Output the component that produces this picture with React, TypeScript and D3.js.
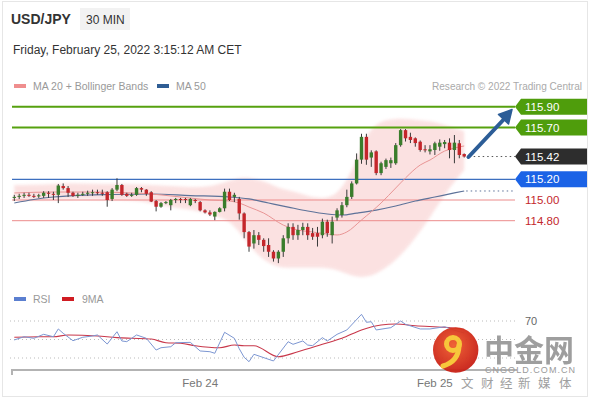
import React from "react";
import * as d3 from "d3";

// ---------- DATA ----------
const candleOpen = [115.02,115.03,115.04,115.05,115.04,115.04,115.04,115.07,115.06,115.05,115.135,115.115,115.07,115.04,115.05,115.06,115.07,115.075,115.07,115.075,115.01,115.10,115.145,115.06,115.04,115.05,115.115,115.10,115.075,114.99,114.935,114.97,114.95,115.00,115.01,115.01,114.95,115.00,114.98,114.90,114.88,114.84,114.885,114.92,115.08,115.03,115.01,114.87,114.69,114.58,114.66,114.615,114.565,114.50,114.435,114.50,114.63,114.74,114.66,114.71,114.74,114.68,114.68,114.66,114.79,114.66,114.83,114.855,114.95,115.03,115.16,115.39,115.61,115.41,115.47,115.26,115.32,115.355,115.355,115.53,115.675,115.61,115.596,115.563,115.49,115.47,115.483,115.515,115.54,115.554,115.483,115.548,115.444];
const candleHigh = [115.05,115.06,115.07,115.07,115.06,115.06,115.085,115.085,115.08,115.155,115.16,115.135,115.08,115.07,115.08,115.09,115.10,115.10,115.10,115.085,115.115,115.21,115.155,115.07,115.07,115.125,115.125,115.105,115.085,115.00,114.98,114.99,115.01,115.02,115.02,115.02,115.02,115.01,114.99,114.91,114.90,114.89,114.93,115.11,115.11,115.07,115.03,114.88,114.70,114.71,114.69,114.63,114.63,114.515,114.515,114.66,114.775,114.775,114.76,114.78,114.775,114.73,114.74,114.82,114.81,114.84,114.92,114.98,115.10,115.18,115.45,115.64,115.64,115.48,115.48,115.37,115.40,115.41,115.55,115.685,115.685,115.65,115.605,115.575,115.53,115.53,115.563,115.586,115.58,115.596,115.628,115.58,115.45];
const candleLow = [114.99,115.01,115.02,115.03,115.02,115.02,115.02,115.02,115.00,114.97,115.10,115.03,115.03,115.02,115.04,115.04,115.04,115.05,115.04,114.935,114.99,115.085,115.04,115.03,115.03,115.04,115.075,115.04,114.98,114.89,114.925,114.96,114.90,114.97,114.97,114.97,114.94,114.97,114.89,114.87,114.845,114.805,114.88,114.89,114.99,114.98,114.81,114.63,114.50,114.53,114.565,114.50,114.45,114.405,114.39,114.45,114.58,114.615,114.615,114.66,114.615,114.615,114.55,114.63,114.645,114.58,114.80,114.83,114.93,115.01,115.15,115.35,115.34,115.32,115.24,115.24,115.30,115.31,115.34,115.515,115.565,115.55,115.515,115.467,115.46,115.44,115.435,115.476,115.50,115.403,115.355,115.403,115.41];
const candleClose = [115.03,115.04,115.05,115.045,115.035,115.045,115.07,115.06,115.05,115.14,115.115,115.07,115.04,115.05,115.06,115.07,115.075,115.07,115.065,115.00,115.10,115.145,115.05,115.04,115.05,115.115,115.10,115.06,114.985,114.935,114.97,114.98,115.00,115.01,115.005,115.00,115.01,114.99,114.90,114.88,114.86,114.885,114.92,115.08,115.00,115.05,114.87,114.69,114.55,114.66,114.615,114.555,114.50,114.435,114.50,114.63,114.74,114.66,114.71,114.74,114.66,114.645,114.645,114.79,114.68,114.79,114.90,114.95,115.03,115.16,115.39,115.61,115.39,115.46,115.26,115.355,115.385,115.385,115.53,115.675,115.596,115.58,115.55,115.483,115.48,115.49,115.548,115.554,115.56,115.483,115.554,115.435,115.42];

const bandIdx = [0,4,8,12,16,20,24,28,32,36,40,44,46,48,50,52,54,56,58,60,62,64,66,68,70,72,74,76,78,80,82,84,86,88,90,92];
const bandUpper = [115.145,115.145,115.155,115.165,115.155,115.155,115.155,115.145,115.135,115.125,115.125,115.185,115.215,115.215,115.195,115.165,115.115,115.095,115.07,115.04,115.02,115.02,115.06,115.19,115.385,115.63,115.735,115.775,115.785,115.785,115.775,115.765,115.755,115.725,115.695,115.665];
const bandLower = [115.0,115.0,115.0,115.01,115.01,115.0,115.0,114.97,114.93,114.91,114.865,114.805,114.69,114.565,114.46,114.39,114.35,114.345,114.345,114.345,114.345,114.345,114.325,114.285,114.255,114.255,114.285,114.345,114.42,114.515,114.635,114.76,114.905,115.05,115.175,115.29];

const ma20Idx = [0,8,16,24,28,32,36,40,44,46,48,51,55,58,61,64,66,68,71,75,78,80,83,85,88,90,92];
const ma20Val = [115.068,115.077,115.077,115.068,115.058,115.039,115.019,115.0,114.99,114.971,114.932,114.874,114.758,114.71,114.691,114.671,114.662,114.691,114.807,114.971,115.116,115.213,115.338,115.386,115.473,115.502,115.522];

const ma50Idx = [0,4,8,12,20,28,36,44,48,52,56,60,64,67,70,74,78,82,86,90,92];
const ma50Val = [114.971,115.005,115.029,115.043,115.053,115.058,115.043,115.029,115.01,114.971,114.932,114.894,114.865,114.855,114.874,114.903,114.942,114.99,115.029,115.068,115.087];

const rsiIdx = [0,2,4,6,8,9,10,12,14,16,17,19,21,22,23,25,27,29,30,32,33,36,38,40,41,43,45,46,47,48,49,53,56,57,59,60,61,63,64,66,68,71,72,73,74,76,77,79,80,83,85,88,90,92];
const rsiVal = [49.5,53,51.3,55.6,53,61.4,56.7,48.7,52.4,53.8,54.9,45.1,58.4,48.4,47.7,54.9,51.3,38.6,41.1,42.2,46.5,46.9,37.6,36.8,35.1,57.8,51.3,40,30.8,26,34,26.8,47.6,44.8,48.4,44,43.3,52,48.4,55.6,60.3,77.2,68.6,69.2,60.3,62,62.8,70,66.4,61.4,61.4,63.8,60,57];
const rsiMaIdx = [0,5,8,11,17,21,24,28,31,34,37,42,45,47,49,54,58,63,67,71,75,78,82,88,92];
const rsiMaVal = [52.4,53,53,54.9,53.8,52,51.3,50.5,46.5,45.9,43.3,41.1,44,43.3,43.3,31.4,36.8,44.8,51.3,60.3,65.7,66.8,64.9,63.2,61];

const levelValues = [115.90, 115.70, 115.42, 115.20, 115.00, 114.80];
const levelKinds = ["res", "res", "cur", "piv", "sup", "sup"];
const rsiLevels = [70, 50, 30];
const xTickIdx = [38, 86];
const xTickLabels = ["Feb 24", "Feb 25"];

// ---------- STYLE ----------
const FONT = "'Liberation Sans', Arial, sans-serif";
const GREEN = "#56a10f";
const RED_C = "#c4262b";
const GREEN_C = "#3a7d2c";

export default function App() {
  const n = candleOpen.length;
  const x = d3.scaleLinear().domain([0, n - 1]).range([14.3, 464.2]);
  const y = d3.scaleLinear().domain([114.8, 115.2]).range([220.7, 179.3]);
  const ry = d3.scaleLinear().domain([30, 70]).range([358, 321]);

  const bandArea = d3
    .area<number>()
    .x((_, i) => x(bandIdx[i]))
    .y0((_, i) => y(bandLower[i]))
    .y1((_, i) => y(bandUpper[i]))
    .curve(d3.curveBasis);
  const ma20Line = d3.line<number>().x((d, i) => x(ma20Idx[i])).y((d) => y(d)).curve(d3.curveMonotoneX);
  const ma50Line = d3.line<number>().x((d, i) => x(ma50Idx[i])).y((d) => y(d)).curve(d3.curveMonotoneX);
  const rsiLine = d3.line<number>().x((d, i) => x(rsiIdx[i])).y((d) => ry(d)).curve(d3.curveLinear);
  const rsiMaLine = d3.line<number>().x((d, i) => x(rsiMaIdx[i])).y((d) => ry(d)).curve(d3.curveMonotoneX);

  const lineStart = 12;
  const lineEnd = 515;
  const lastX = x(n - 1);

  const tagPath = (cy: number) =>
    `M515,${cy} L521,${cy - 8} L587,${cy - 8} L587,${cy + 8} L521,${cy + 8} Z`;

  const tagColor: Record<string, string> = { res: "#4f9d0c", cur: "#2d2d2d", piv: "#1b63e6" };

  const lastMa50 = ma50Val[ma50Val.length - 1];

  return (
    <svg
      width={590}
      height={400}
      style={{ position: "absolute", left: 0, top: 0, background: "#fff" }}
      fontFamily={FONT}
    >
      <defs>
        <filter id="soft" x="-10%" y="-10%" width="120%" height="120%">
          <feGaussianBlur stdDeviation="1.5" />
        </filter>
        <radialGradient id="logoG" cx="45%" cy="40%" r="60%">
          <stop offset="0%" stopColor="#ef5a2c" />
          <stop offset="100%" stopColor="#c81f16" />
        </radialGradient>
      </defs>
      <rect x={2.5} y={1.5} width={585} height={395} fill="#fff" stroke="#e6e6e6" />

      {/* header */}
      <text x={11} y={24} fontSize={14} fontWeight="bold" fill="#333">USD/JPY</text>
      <rect x={80} y={8} width={50} height={22} fill="#f2f2f2" />
      <text x={86} y={23.5} fontSize={12} fill="#333">30 MIN</text>
      <text x={13} y={53.5} fontSize={12} fill="#333">Friday, February 25, 2022 3:15:12 AM CET</text>

      {/* legend */}
      <rect x={14} y={84} width={12} height={4} fill="#ef8e8e" />
      <text x={33} y={90} fontSize={10.5} fill="#999">MA 20 + Bollinger Bands</text>
      <rect x={157} y={84} width={12} height={4} fill="#2f5d94" />
      <text x={176} y={90} fontSize={10.5} fill="#999">MA 50</text>
      <text x={432} y={90} fontSize={10.5} fill="#aaa" textLength={150} lengthAdjust="spacingAndGlyphs">Research © 2022 Trading Central</text>

      {/* Bollinger band */}
      <path d={bandArea(bandUpper) || ""} fill="#f8caca" opacity={0.55} filter="url(#soft)" />

      {/* level lines */}
      {levelValues.map((v, i) => {
        const k = levelKinds[i];
        const yy = y(v);
        if (k === "res")
          return <line key={i} x1={lineStart} x2={lineEnd} y1={yy} y2={yy} stroke={GREEN} strokeWidth={2} />;
        if (k === "piv")
          return <line key={i} x1={lineStart} x2={lineEnd} y1={yy} y2={yy} stroke="#3d6fbf" strokeWidth={1.3} />;
        if (k === "sup")
          return <line key={i} x1={lineStart} x2={lineEnd} y1={yy} y2={yy} stroke="#ec8c8c" strokeWidth={1} />;
        return (
          <line key={i} x1={lastX + 5} x2={lineEnd} y1={yy} y2={yy} stroke="#555" strokeWidth={1} strokeDasharray="1.5,3" />
        );
      })}

      {/* MA lines */}
      <path d={ma50Line(ma50Val) || ""} fill="none" stroke="#5d7299" strokeWidth={1.2} />
      <line x1={lastX + 2} x2={lineEnd} y1={y(lastMa50)} y2={y(lastMa50)} stroke="#5d7299" strokeWidth={1} strokeDasharray="1.5,3" />
      <path d={ma20Line(ma20Val) || ""} fill="none" stroke="#e99595" strokeWidth={1} />

      {/* candles */}
      {candleOpen.map((o, i) => {
        const c = candleClose[i];
        const h = Math.max(candleHigh[i], o, c);
        const l = Math.min(candleLow[i], o, c);
        const up = c >= o;
        const col = up ? GREEN_C : RED_C;
        const cx = x(i);
        const top = y(Math.max(o, c));
        const bh = Math.max(1, y(Math.min(o, c)) - top);
        return (
          <g key={i}>
            <line x1={cx} x2={cx} y1={y(h)} y2={y(l)} stroke="#3a3a3a" strokeWidth={1} />
            <rect x={cx - 1.7} y={top} width={3.4} height={bh} fill={col} />
          </g>
        );
      })}

      {/* arrow */}
      <line x1={468.5} y1={157} x2={506} y2={117} stroke="#2c5d97" strokeWidth={4} strokeLinecap="round" />
      <path d="M512,109.5 L498.5,114.5 L508.5,124 Z" fill="#2c5d97" stroke="#2c5d97" strokeWidth={1.5} strokeLinejoin="round" />

      {/* tags and labels */}
      {levelValues.map((v, i) => {
        const k = levelKinds[i];
        const yy = y(v);
        if (k === "sup")
          return (
            <text key={i} x={525} y={yy + 4} fontSize={11.5} fill="#c3272c">{v.toFixed(2)}</text>
          );
        return (
          <g key={i}>
            <path d={tagPath(yy)} fill={tagColor[k]} />
            <text x={525} y={yy + 4} fontSize={11.5} fill="#fff">{v.toFixed(2)}</text>
          </g>
        );
      })}

      {/* RSI legend */}
      <rect x={14} y={297} width={12} height={4} fill="#5b7fd0" />
      <text x={33} y={303} fontSize={10.5} fill="#999">RSI</text>
      <rect x={62} y={297} width={12} height={4} fill="#d01c22" />
      <text x={82} y={303} fontSize={10.5} fill="#999">9MA</text>

      {/* RSI panel */}
      {rsiLevels.map((v) => (
        <line key={v} x1={10} x2={518} y1={ry(v)} y2={ry(v)} stroke="#bbb" strokeWidth={1} strokeDasharray="1,3" />
      ))}
      <text x={525} y={325} fontSize={11} fill="#666">{rsiLevels[0]}</text>
      <path d={rsiMaLine(rsiMaVal) || ""} fill="none" stroke="#c8374a" strokeWidth={1.1} />
      <path d={rsiLine(rsiVal) || ""} fill="none" stroke="#7c96d2" strokeWidth={1} />

      {/* x axis */}
      <line x1={11} x2={517} y1={370} y2={370} stroke="#b3b3b3" strokeWidth={2} />
      <line x1={12} x2={12} y1={370} y2={375} stroke="#b3b3b3" strokeWidth={2} />
      {xTickIdx.map((t, i) => (
        <text key={t} x={x(t)} y={386.5} fontSize={11.5} fill="#777" textAnchor="middle">{xTickLabels[i]}</text>
      ))}

      {/* watermark */}
      <g opacity={0.95}>
        <circle cx={455.7} cy={350} r={22.7} fill="url(#logoG)" />
        <circle cx={453} cy={344} r={6.5} fill="none" stroke="#f7c331" strokeWidth={5} />
        <path d="M459,345 C459,357 453,363 443,366" fill="none" stroke="#f7c331" strokeWidth={5} strokeLinecap="round" />
      </g>
      <text x={484} y={361} fontSize={30} fontWeight="bold" fill="#8e8e8e" opacity={0.85} fontFamily="'Noto Sans CJK SC', sans-serif">中金网</text>
      <text x={485} y={373} fontSize={9} fill="#9a9a9a" textLength={90} lengthAdjust="spacing">CNGOLD.COM.CN</text>
      {["文", "财", "经", "新", "媒", "体"].map((ch, i) => (
        <text key={ch} x={[461, 481, 500, 518, 538, 559][i]} y={388} fontSize={12.5} fill="#a0a0a0" fontFamily="'Noto Sans CJK SC', sans-serif">{ch}</text>
      ))}
    </svg>
  );
}
